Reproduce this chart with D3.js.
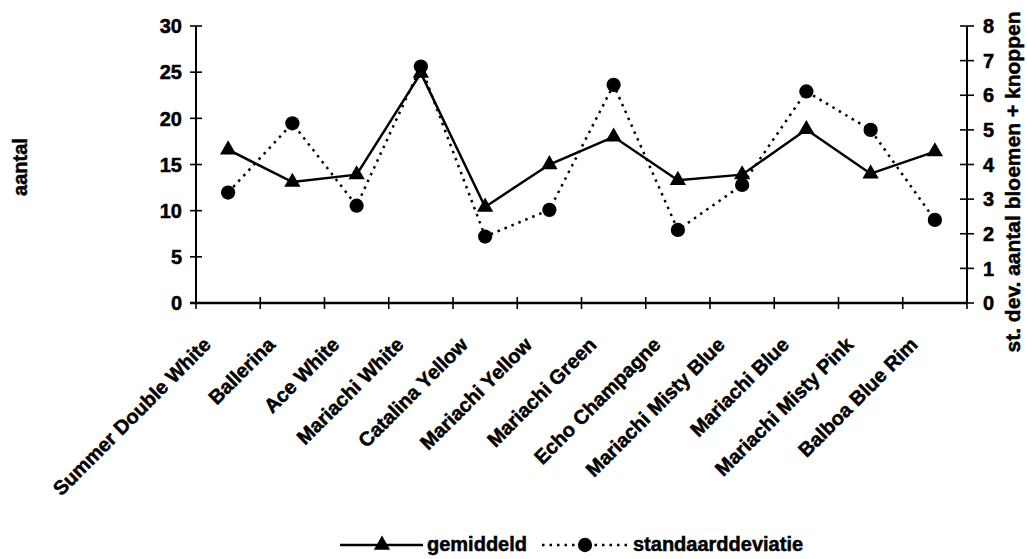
<!DOCTYPE html>
<html><head><meta charset="utf-8">
<script src="https://cdn.jsdelivr.net/npm/d3@7"></script>
<style>
body{margin:0;background:#fff;}
text{font-family:"Liberation Sans",Arial,sans-serif;font-weight:bold;fill:#000;stroke:#000;stroke-width:0.5px;}
</style></head>
<body>
<svg id="chart" width="1027" height="559"></svg>
<script>
const categories = ["Summer Double White","Ballerina","Ace White","Mariachi White","Catalina Yellow","Mariachi Yellow","Mariachi Green","Echo Champagne","Mariachi Misty Blue","Mariachi Blue","Mariachi Misty Pink","Balboa Blue Rim"];
const gemiddeld = [16.6,13.1,13.9,24.9,10.4,15.0,18.0,13.3,13.9,18.8,14.0,16.4];
const standaarddeviatie = [3.19,5.19,2.81,6.83,1.92,2.69,6.30,2.11,3.41,6.11,5.00,2.40];
const leftTicks = [0,5,10,15,20,25,30];
const rightTicks = [0,1,2,3,4,5,6,7,8];
const seriesNames = ["gemiddeld","standaarddeviatie"];
const yTitleLeft = "aantal";
const yTitleRight = "st. dev. aantal bloemen + knoppen";

(function(){
const svg = d3.select("#chart");
const pL = 196, pR = 967, pT = 26, pB = 303;
const fs = 20;

const x = d3.scaleBand().domain(categories).range([pL, pR]).padding(0);
const yL = d3.scaleLinear().domain([0,30]).range([pB, pT]);
const yR = d3.scaleLinear().domain([0,8]).range([pB, pT]);
const cx = d => x(d) + x.bandwidth()/2;

// left axis
const gL = svg.append("g");
gL.append("line").attr("x1",pL).attr("x2",pL).attr("y1",pT).attr("y2",pB).attr("stroke","#000").attr("stroke-width",2);
leftTicks.forEach(t=>{
  gL.append("line").attr("x1",pL-6).attr("x2",pL+6).attr("y1",yL(t)).attr("y2",yL(t)).attr("stroke","#000").attr("stroke-width",1.6);
  gL.append("text").attr("x",182).attr("y",yL(t)).attr("dy","0.36em").attr("text-anchor","end").attr("font-size",fs).text(t);
});
// right axis
const gR = svg.append("g");
gR.append("line").attr("x1",pR).attr("x2",pR).attr("y1",pT).attr("y2",pB).attr("stroke","#000").attr("stroke-width",2);
rightTicks.forEach(t=>{
  gR.append("line").attr("x1",pR-7).attr("x2",pR+7).attr("y1",yR(t)).attr("y2",yR(t)).attr("stroke","#000").attr("stroke-width",1.6);
  gR.append("text").attr("x",983).attr("y",yR(t)).attr("dy","0.36em").attr("text-anchor","start").attr("font-size",fs).text(t);
});
// x axis
const gX = svg.append("g");
gX.append("line").attr("x1",pL-6).attr("x2",pR).attr("y1",pB).attr("y2",pB).attr("stroke","#000").attr("stroke-width",2.5);
d3.range(categories.length+1).forEach(i=>{
  const xx = pL + i*x.bandwidth();
  gX.append("line").attr("x1",xx).attr("x2",xx).attr("y1",pB-6).attr("y2",pB+6).attr("stroke","#000").attr("stroke-width",1.6);
});
categories.forEach(c=>{
  gX.append("text").attr("transform",`translate(${cx(c)-16},${346}) rotate(-45)`)
    .attr("text-anchor","end").attr("font-size",fs).text(c);
});

// titles
svg.append("text").attr("transform",`translate(27,167) rotate(-90)`).attr("text-anchor","middle").attr("font-size",fs).text(yTitleLeft);
svg.append("text").attr("transform",`translate(1020,182) rotate(-90)`).attr("text-anchor","middle").attr("font-size",21).text(yTitleRight);

// lines
const lineL = d3.line().x((d,i)=>cx(categories[i])).y(d=>yL(d));
const lineR = d3.line().x((d,i)=>cx(categories[i])).y(d=>yR(d));
svg.append("path").attr("d",lineR(standaarddeviatie)).attr("fill","none").attr("stroke","#000").attr("stroke-width",2.5).attr("stroke-dasharray","2.5,5");
svg.append("path").attr("d",lineL(gemiddeld)).attr("fill","none").attr("stroke","#000").attr("stroke-width",2.5);

const tri = d3.symbol().type(d3.symbolTriangle).size(115);
const circ = d3.symbol().type(d3.symbolCircle).size(160);
svg.selectAll(".c").data(standaarddeviatie).join("path").attr("class","c")
  .attr("transform",(d,i)=>`translate(${cx(categories[i])},${yR(d)})`).attr("d",circ).attr("fill","#000");
svg.selectAll(".t").data(gemiddeld).join("path").attr("class","t")
  .attr("transform",(d,i)=>`translate(${cx(categories[i])},${yL(d)})`).attr("d",tri).attr("fill","#000");

// legend
const ly = 545;
const lg = svg.append("g");
lg.append("line").attr("x1",340).attr("x2",423).attr("y1",ly).attr("y2",ly).attr("stroke","#000").attr("stroke-width",2.5);
lg.append("path").attr("transform",`translate(382,${ly})`).attr("d",tri).attr("fill","#000");
lg.append("text").attr("x",427).attr("y",ly).attr("dy","0.3em").attr("font-size",fs).text(seriesNames[0]);
lg.append("line").attr("x1",542).attr("x2",628).attr("y1",ly).attr("y2",ly).attr("stroke","#000").attr("stroke-width",2.5).attr("stroke-dasharray","2.5,5");
lg.append("path").attr("transform",`translate(585,${ly})`).attr("d",circ).attr("fill","#000");
lg.append("text").attr("x",633).attr("y",ly).attr("dy","0.3em").attr("font-size",fs).text(seriesNames[1]);
})();
</script>
</body></html>
